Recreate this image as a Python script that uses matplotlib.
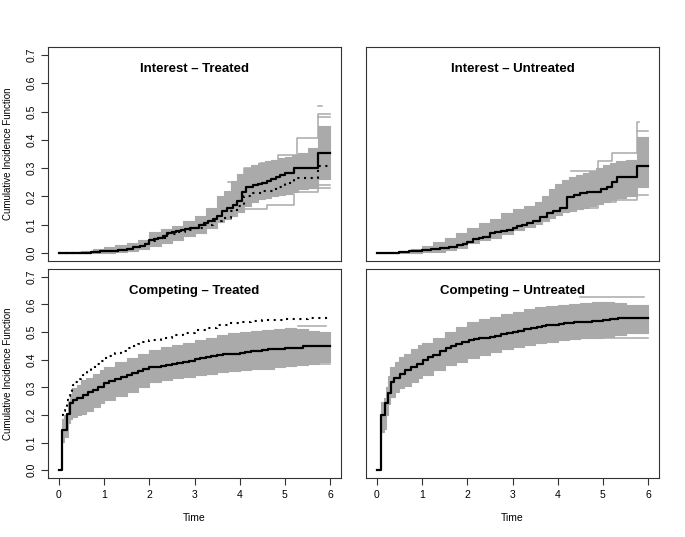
import matplotlib
matplotlib.use("Agg")
import matplotlib.pyplot as plt

plt.rcParams['font.family'] = ['Liberation Sans', 'DejaVu Sans']

# ---- Interest - Treated ----
tl_t = [0, 0.3, 0.5, 0.7, 0.9, 1.1, 1.3, 1.5, 1.65, 1.8, 1.9, 2.0, 2.1, 2.2, 2.3, 2.4, 2.5,
        2.6, 2.7, 2.8, 2.9, 3.0, 3.1, 3.2, 3.3, 3.4, 3.5, 3.6, 3.72, 3.85, 3.95, 4.05, 4.15,
        4.3, 4.4, 4.5, 4.6, 4.7, 4.8, 4.9, 5.0, 5.2, 5.74, 6.0]
tl_v = [0, 0.001, 0.002, 0.004, 0.006, 0.009, 0.012, 0.016, 0.02, 0.026, 0.032, 0.046, 0.05,
        0.055, 0.062, 0.07, 0.074, 0.078, 0.082, 0.086, 0.088, 0.09, 0.1, 0.108, 0.114, 0.12,
        0.132, 0.15, 0.158, 0.17, 0.185, 0.215, 0.235, 0.24, 0.243, 0.246, 0.256, 0.262,
        0.268, 0.275, 0.282, 0.30, 0.354, 0.354]
tl_dot_t = [0, 0.3, 0.5, 0.7, 0.9, 1.1, 1.3, 1.5, 1.65, 1.8, 1.9, 2.0, 2.2, 2.4, 2.6, 2.8,
            3.0, 3.2, 3.4, 3.6, 3.8, 3.95, 4.1, 4.3, 4.5, 4.8, 5.0, 5.2, 5.74, 6.0]
tl_dot_v = [0, 0.001, 0.002, 0.004, 0.006, 0.009, 0.012, 0.016, 0.02, 0.026, 0.032, 0.044,
            0.052, 0.066, 0.074, 0.082, 0.09, 0.1, 0.112, 0.125, 0.15, 0.165, 0.2, 0.212,
            0.22, 0.235, 0.247, 0.264, 0.307, 0.307]
tl_band_t = [0, 0.25, 0.5, 0.75, 1.0, 1.25, 1.5, 1.75, 2.0, 2.25, 2.5, 2.75, 3.0, 3.25, 3.5,
             3.65, 3.8, 3.95, 4.1, 4.25, 4.4, 4.55, 4.7, 4.85, 5.0, 5.15, 5.3, 5.5, 5.74, 6.0]
tl_band_hi = [0.001, 0.004, 0.009, 0.014, 0.02, 0.028, 0.036, 0.047, 0.075, 0.085, 0.097,
              0.112, 0.132, 0.16, 0.2, 0.22, 0.255, 0.28, 0.3, 0.31, 0.318, 0.325, 0.33,
              0.335, 0.34, 0.345, 0.355, 0.37, 0.45, 0.45]
tl_band_lo = [0, 0, 0, 0.001, 0.002, 0.004, 0.008, 0.013, 0.025, 0.035, 0.045, 0.06, 0.07,
              0.09, 0.11, 0.12, 0.13, 0.145, 0.165, 0.18, 0.19, 0.195, 0.2, 0.205, 0.21,
              0.215, 0.225, 0.23, 0.26, 0.26]
tl_extra = [
    ([3.75, 4.1, 4.45, 4.85, 5.27, 5.74, 6.0], [0.25, 0.30, 0.318, 0.345, 0.405, 0.49, 0.49]),
    ([5.74, 5.82], [0.52, 0.52]),
    ([5.74, 6.0], [0.48, 0.48]),
    ([3.9, 4.1, 4.6, 5.2, 5.74, 6.0], [0.15, 0.155, 0.17, 0.215, 0.24, 0.24]),
    ([5.74, 6.0], [0.23, 0.23]),
]

# ---- Interest - Untreated ----
tr_t = [0, 0.3, 0.5, 0.7, 1.0, 1.2, 1.4, 1.6, 1.77, 1.9, 2.0, 2.13, 2.25, 2.35, 2.5, 2.62,
        2.75, 2.88, 3.02, 3.1, 3.2, 3.33, 3.46, 3.6, 3.76, 3.9, 4.05, 4.2, 4.35, 4.5, 4.65,
        4.79, 4.95, 5.09, 5.2, 5.31, 5.75, 6.0]
tr_v = [0, 0.001, 0.003, 0.006, 0.011, 0.014, 0.018, 0.023, 0.028, 0.033, 0.038, 0.048,
        0.053, 0.058, 0.07, 0.074, 0.078, 0.083, 0.09, 0.095, 0.1, 0.106, 0.113, 0.127, 0.14,
        0.148, 0.158, 0.199, 0.205, 0.211, 0.214, 0.217, 0.225, 0.234, 0.25, 0.267, 0.307,
        0.307]
tr_band_t = [0, 0.25, 0.5, 0.75, 1.0, 1.25, 1.5, 1.75, 2.0, 2.25, 2.5, 2.75, 3.0, 3.25, 3.5,
             3.65, 3.8, 3.95, 4.1, 4.25, 4.4, 4.55, 4.7, 4.85, 5.0, 5.15, 5.3, 5.5, 5.75, 6.0]
tr_band_hi = [0.001, 0.003, 0.007, 0.014, 0.025, 0.04, 0.055, 0.07, 0.09, 0.105, 0.12, 0.14,
              0.155, 0.168, 0.18, 0.2, 0.225, 0.245, 0.258, 0.268, 0.275, 0.283, 0.29, 0.3,
              0.31, 0.318, 0.325, 0.33, 0.41, 0.41]
tr_band_lo = [0, 0, 0, 0.001, 0.003, 0.005, 0.01, 0.018, 0.035, 0.045, 0.055, 0.068, 0.08,
              0.092, 0.104, 0.112, 0.125, 0.135, 0.145, 0.15, 0.155, 0.16, 0.165, 0.172, 0.18,
              0.188, 0.195, 0.2, 0.235, 0.235]
tr_extra = [
    ([4.3, 4.9, 5.2, 5.75, 5.8], [0.29, 0.325, 0.352, 0.464, 0.464]),
    ([5.75, 6.0], [0.43, 0.43]),
    ([4.4, 4.9, 5.3, 5.75, 6.0], [0.159, 0.18, 0.187, 0.205, 0.205]),
]

# ---- Competing - Treated ----
bl_t = [0, 0.06, 0.17, 0.24, 0.31, 0.4, 0.54, 0.65, 0.75, 0.87, 1.0, 1.12, 1.25, 1.37, 1.5,
        1.62, 1.75, 1.87, 2.0, 2.12, 2.25, 2.37, 2.5, 2.62, 2.75, 2.87, 3.0, 3.12, 3.25, 3.37,
        3.5, 3.62, 3.75, 3.87, 4.0, 4.12, 4.25, 4.37, 4.5, 4.62, 4.75, 4.87, 5.0, 5.12, 5.25,
        5.4, 6.0]
bl_v = [0, 0.147, 0.205, 0.242, 0.254, 0.262, 0.272, 0.283, 0.292, 0.302, 0.314, 0.322, 0.33,
        0.337, 0.344, 0.351, 0.358, 0.365, 0.372, 0.375, 0.378, 0.381, 0.384, 0.388, 0.392,
        0.397, 0.402, 0.406, 0.41, 0.414, 0.417, 0.419, 0.42, 0.421, 0.423, 0.427, 0.43, 0.433,
        0.435, 0.437, 0.438, 0.44, 0.441, 0.443, 0.444, 0.449, 0.449]
bl_dot_t = [0.07, 0.1, 0.13, 0.17, 0.21, 0.24, 0.28, 0.31, 0.36, 0.42, 0.48, 0.54, 0.62, 0.7,
            0.8, 0.9, 1.0, 1.12, 1.25, 1.37, 1.5, 1.62, 1.75, 1.87, 2.0, 2.25, 2.5, 2.75, 3.0,
            3.25, 3.5, 3.75, 4.0, 4.25, 4.5, 4.75, 5.0, 5.5, 6.0]
bl_dot_v = [0.199, 0.215, 0.23, 0.254, 0.268, 0.28, 0.295, 0.308, 0.32, 0.33, 0.337, 0.344,
            0.358, 0.37, 0.383, 0.395, 0.405, 0.415, 0.425, 0.433, 0.441, 0.45, 0.458, 0.465,
            0.471, 0.48, 0.489, 0.498, 0.507, 0.516, 0.525, 0.531, 0.537, 0.54, 0.543, 0.545,
            0.546, 0.549, 0.551]
bl_band_t = [0.06, 0.12, 0.2, 0.25, 0.3, 0.4, 0.5, 0.6, 0.75, 0.9, 1.0, 1.25, 1.5, 1.75, 2.0,
             2.25, 2.5, 2.75, 3.0, 3.25, 3.5, 3.75, 4.0, 4.25, 4.5, 4.75, 5.0, 5.25, 5.5, 5.75,
             6.0]
bl_band_hi = [0.185, 0.2, 0.25, 0.275, 0.297, 0.31, 0.326, 0.335, 0.35, 0.362, 0.374, 0.39,
              0.405, 0.42, 0.435, 0.445, 0.453, 0.462, 0.471, 0.48, 0.489, 0.495, 0.501, 0.504,
              0.507, 0.511, 0.515, 0.51, 0.505, 0.50, 0.50]
bl_band_lo = [0.103, 0.12, 0.17, 0.185, 0.193, 0.2, 0.205, 0.215, 0.228, 0.242, 0.254, 0.27,
              0.284, 0.302, 0.32, 0.326, 0.332, 0.338, 0.344, 0.35, 0.356, 0.359, 0.362, 0.365,
              0.368, 0.372, 0.377, 0.382, 0.386, 0.39, 0.39]
bl_extra = [
    ([5.3, 5.9], [0.522, 0.522]),
    ([5.3, 6.0], [0.383, 0.383]),
]

# ---- Competing - Untreated ----
br_t = [0, 0.09, 0.18, 0.25, 0.32, 0.39, 0.51, 0.63, 0.75, 0.89, 1.03, 1.14, 1.25, 1.39, 1.53,
        1.64, 1.75, 1.89, 2.03, 2.14, 2.25, 2.37, 2.5, 2.62, 2.75, 2.88, 3.02, 3.13, 3.25, 3.4,
        3.54, 3.65, 3.75, 3.88, 4.02, 4.13, 4.25, 4.37, 4.5, 4.62, 4.75, 4.88, 5.01, 5.15,
        5.34, 6.0]
br_v = [0, 0.199, 0.242, 0.278, 0.32, 0.332, 0.35, 0.362, 0.373, 0.386, 0.399, 0.408, 0.418,
        0.43, 0.441, 0.449, 0.457, 0.464, 0.471, 0.474, 0.477, 0.48, 0.483, 0.487, 0.492,
        0.496, 0.501, 0.505, 0.51, 0.515, 0.519, 0.522, 0.524, 0.527, 0.529, 0.531, 0.533,
        0.535, 0.537, 0.538, 0.54, 0.541, 0.543, 0.546, 0.552, 0.552]
br_band_t = [0.09, 0.15, 0.2, 0.25, 0.3, 0.4, 0.5, 0.6, 0.75, 0.9, 1.0, 1.25, 1.5, 1.75, 2.0,
             2.25, 2.5, 2.75, 3.0, 3.25, 3.5, 3.75, 4.0, 4.25, 4.5, 4.75, 5.0, 5.25, 5.5, 5.75,
             6.0]
br_band_hi = [0.247, 0.26, 0.3, 0.34, 0.374, 0.39, 0.41, 0.42, 0.44, 0.452, 0.459, 0.48,
              0.501, 0.52, 0.537, 0.547, 0.556, 0.565, 0.574, 0.583, 0.592, 0.595, 0.598,
              0.601, 0.604, 0.607, 0.61, 0.605, 0.598, 0.598, 0.598]
br_band_lo = [0.139, 0.15, 0.2, 0.24, 0.266, 0.282, 0.296, 0.305, 0.32, 0.335, 0.344, 0.362,
              0.38, 0.393, 0.405, 0.417, 0.429, 0.438, 0.447, 0.453, 0.459, 0.465, 0.471,
              0.474, 0.477, 0.48, 0.483, 0.489, 0.495, 0.495, 0.495]
br_extra = [
    ([4.5, 5.9], [0.628, 0.628]),
    ([4.9, 6.0], [0.477, 0.477]),
]

titles = ["Interest \u2013 Treated", "Interest \u2013 Untreated",
          "Competing \u2013 Treated", "Competing \u2013 Untreated"]
x_ticks = [0, 1, 2, 3, 4, 5, 6]
y_ticks = [0.0, 0.1, 0.2, 0.3, 0.4, 0.5, 0.6, 0.7]

GRAY = "#aaaaaa"
W, H = 685, 537


def draw_panel(ax, title, t, v, band_t, band_lo, band_hi, extra, dot=None,
               left=False, bottom=False):
    ax.fill_between(band_t, band_lo, band_hi, step="post", color=GRAY, lw=0.8,
                    edgecolor=GRAY)
    for et, ev in extra:
        ax.step(et, ev, where="post", color=GRAY, lw=1.1)
    if dot is not None:
        ax.step(dot[0], dot[1], where="post", color="black", lw=1.5,
                linestyle=(0, (1, 2.2)))
    ax.step(t, v, where="post", color="black", lw=1.6)

    ax.set_xlim(-0.24, 6.24)
    ax.set_ylim(-0.028, 0.728)
    ax.text(3, 0.65, title, ha="center", va="center", fontsize=9.5, fontweight="bold")
    for s in ax.spines.values():
        s.set_color("#333333")
        s.set_linewidth(0.8)
    ax.tick_params(direction="out", length=5, width=0.8, color="#333333", labelsize=7.5)

    if left:
        ax.set_yticks(y_ticks)
        ax.set_yticklabels([f"{y:.1f}" for y in y_ticks], rotation=90, va="center")
        ax.tick_params(axis="y", pad=3)
        ax.text(-0.138, 0.5, "Cumulative Incidence Function", transform=ax.transAxes,
                rotation=90, ha="center", va="center", fontsize=7)
    else:
        ax.set_yticks([])
    if bottom:
        ax.set_xticks(x_ticks)
        ax.set_xticklabels([str(x) for x in x_ticks])
        ax.tick_params(axis="x", pad=4)
        ax.text(0.5, -0.19, "Time", transform=ax.transAxes, ha="center", va="center",
                fontsize=7.5)
    else:
        ax.set_xticks([])


fig = plt.figure(figsize=(W / 100, H / 100), dpi=100)
lefts = [48, 366]
pw = 293
top_row = (47, 261)
bot_row = (269, 478)


def make_ax(px, row):
    return fig.add_axes([px / W, 1 - row[1] / H, pw / W, (row[1] - row[0]) / H])


ax1 = make_ax(lefts[0], top_row)
draw_panel(ax1, titles[0], tl_t, tl_v, tl_band_t, tl_band_lo, tl_band_hi, tl_extra,
           dot=(tl_dot_t, tl_dot_v), left=True)
ax2 = make_ax(lefts[1], top_row)
draw_panel(ax2, titles[1], tr_t, tr_v, tr_band_t, tr_band_lo, tr_band_hi, tr_extra)
ax3 = make_ax(lefts[0], bot_row)
draw_panel(ax3, titles[2], bl_t, bl_v, bl_band_t, bl_band_lo, bl_band_hi, bl_extra,
           dot=(bl_dot_t, bl_dot_v), left=True, bottom=True)
ax4 = make_ax(lefts[1], bot_row)
draw_panel(ax4, titles[3], br_t, br_v, br_band_t, br_band_lo, br_band_hi, br_extra,
           bottom=True)

fig.savefig("out.png", dpi=100)
